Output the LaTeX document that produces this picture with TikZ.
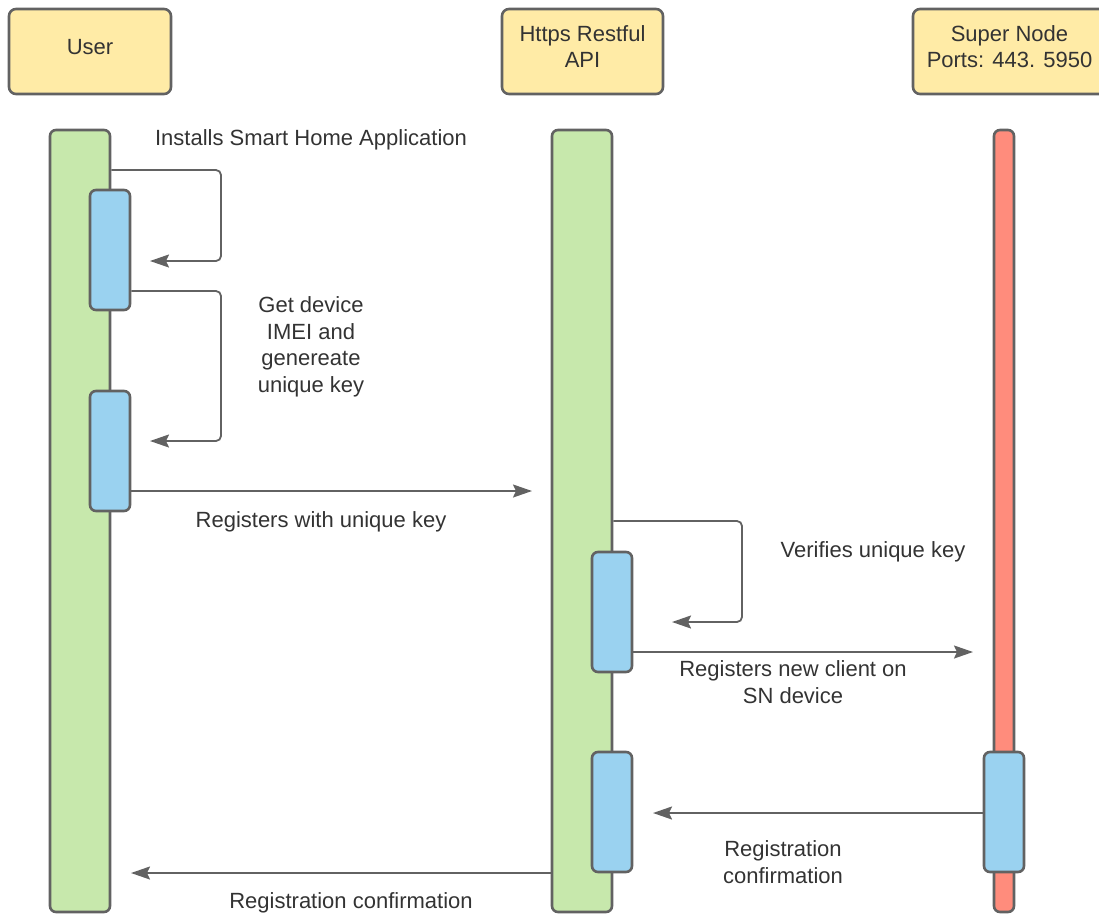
\documentclass[tikz,border=0pt]{standalone}
\usepackage{fontspec}
\setmainfont{Liberation Sans}
\usetikzlibrary{arrows.meta}
\definecolor{headfill}{HTML}{FFEBA6}
\definecolor{lifegreen}{HTML}{C7E8AC}
\definecolor{actblue}{HTML}{9AD2F0}
\definecolor{lifered}{HTML}{FF8C7C}
\definecolor{edge}{HTML}{626262}
\definecolor{txt}{HTML}{333333}
\tikzset{
  head/.style={draw=edge, fill=headfill, line width=2.6pt, rounded corners=7pt,
    minimum height=85pt, inner sep=0pt},
  life/.style={draw=edge, line width=2.6pt, rounded corners=6pt, minimum width=60pt,
    minimum height=782pt, inner sep=0pt},
  thinlife/.style={life, minimum width=20pt, fill=lifered},
  act/.style={draw=edge, fill=actblue, line width=2.6pt, rounded corners=6pt,
    minimum width=40pt, minimum height=120pt, inner sep=0pt},
  msg/.style={draw=edge, line width=1.8pt, rounded corners=5pt,
    -{Stealth[length=19pt,width=13pt,inset=3pt]}},
  lbl/.style={text=txt, font=\fontsize{22}{26.5}\selectfont, align=center, inner sep=0pt}
}
\begin{document}
\begin{tikzpicture}[x=1pt,y=-1pt]
\useasboundingbox (0,0) rectangle (1099,916);

% participant headers
\node[head, minimum width=162pt] (user) at (90,51.5) {};
\node[head, minimum width=161pt] (api) at (582.5,51.5) {};
\node[head, minimum width=193pt] (sn) at (1009.5,51.5) {};
\node[lbl] (usert) at ([yshift=4pt]user.center) {User};
\node[lbl] (apit) at ([yshift=5pt]api.center) {Https Restful\\API};
\node[lbl] (snt) at ([yshift=5pt]sn.center) {Super Node\\Ports: 443. 5950};

% lifelines
\node[life, fill=lifegreen] (ul) at (80,521) {};
\node[life, fill=lifegreen] (al) at (582,521) {};
\node[thinlife] (sl) at (1004,521) {};

% activation bars
\node[act] (ua1) at (110,250) {};
\node[act] (ua2) at (110,451) {};
\node[act] (aa1) at (612,612) {};
\node[act] (aa2) at (612,812) {};
\node[act] (sa1) at (1004,812) {};

% turning points and free ends
\coordinate (t1) at (221,170);
\coordinate (e1) at (150,261);
\coordinate (t2) at (221,291);
\coordinate (e2) at (150,441);
\coordinate (e3) at (532,491);
\coordinate (t4) at (742,521);
\coordinate (e4) at (672,622);
\coordinate (e5) at (973,652);
\coordinate (e6) at (653,813);
\coordinate (e7) at (131,873);

% messages
\draw[msg] (ul.east |- t1) -- (t1) |- (e1);
\draw[msg] (ua1.east |- t2) -- (t2) |- (e2);
\draw[msg] (ua2.east |- e3) -- (e3);
\draw[msg] (al.east |- t4) -- (t4) |- (e4);
\draw[msg] (aa1.east |- e5) -- (e5);
\draw[msg] (sa1.west |- e6) -- (e6);
\draw[msg] (al.west |- e7) -- (e7);

% labels
\node[lbl] (l1) at (311,140) {Installs Smart Home Application};
\node[lbl] (l2) at (311,347) {Get device\\IMEI and\\genereate\\unique key};
\node[lbl] (l3) at (321,522) {Registers with unique key};
\node[lbl] (l4) at (873,552) {Verifies unique key};
\node[lbl] (l5) at (793,682) {Registers new client on\\SN device};
\node[lbl] (l6) at (783,862) {Registration\\confirmation};
\node[lbl] (l7) at (351,903) {Registration confirmation};
\end{tikzpicture}
\end{document}
